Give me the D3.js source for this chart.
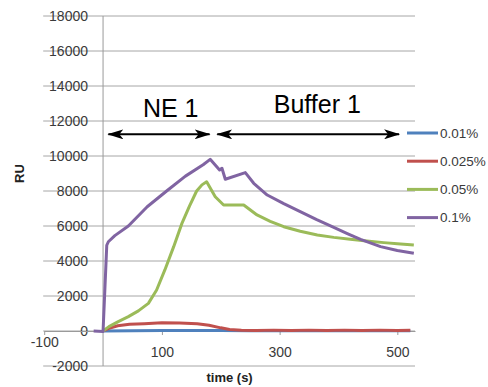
<!DOCTYPE html>
<html>
<head>
<meta charset="utf-8">
<script src="https://cdn.jsdelivr.net/npm/d3@7"></script>
<style>
  body { margin: 0; background: #fff; }
  svg { display: block; font-family: "Liberation Sans", Arial, sans-serif; }
</style>
</head>
<body>
<svg id="chart" width="488" height="387"></svg>
<script>
// series: time (s) and response (RU)
const seriesNames = ["0.01%", "0.025%", "0.05%", "0.1%"];
const seriesColors = ["#4F81BD", "#C0504D", "#9BBB59", "#8064A2"];

const t001 = [0, 50, 100, 150, 200, 250, 300, 350, 400, 450, 500, 522];
const v001 = [0, 20, 30, 30, 25, 20, 20, 20, 20, 20, 20, 20];

const t0025 = [0, 10, 25, 45, 70, 100, 130, 160, 180, 200, 215, 235, 260, 290, 320, 350, 380, 410, 440, 470, 500, 522];
const v0025 = [0, 150, 300, 380, 420, 470, 460, 420, 330, 180, 90, 40, 30, 50, 30, 50, 30, 50, 30, 50, 30, 40];

const t005 = [0, 10, 25, 43, 60, 77, 91, 105, 120, 134, 147, 159, 168, 176, 190.6, 204.8, 239, 261.6, 284, 307, 335, 364, 392, 420, 448, 477, 500, 528];
const v005 = [0, 250, 520, 820, 1150, 1580, 2340, 3490, 4820, 6150, 7150, 8000, 8350, 8530, 7670, 7200, 7200, 6630, 6270, 5960, 5700, 5490, 5350, 5240, 5140, 5050, 4980, 4910];

const t01 = [-16, 0, 6.3, 9, 20, 43, 75, 108, 140, 170, 182, 198, 202, 207.7, 241.7, 256, 279, 307, 335, 363, 392, 415, 437.5, 471.5, 500, 528];
const v01 = [0, -30, 4900, 5100, 5450, 6000, 7100, 8000, 8850, 9500, 9810, 9200, 9300, 8670, 9050, 8440, 7770, 7280, 6820, 6360, 5920, 5570, 5240, 4820, 4600, 4440];

const yTicks = [-2000, 0, 2000, 4000, 6000, 8000, 10000, 12000, 14000, 16000, 18000];
const xTicks = [-100, 100, 300, 500];

// phase annotations (time range, label)
const phaseLabels = ["NE 1", "Buffer 1"];
const phaseStart = [9, 194];
const phaseEnd = [181, 503];
const phaseTextX = [115, 364];
const phaseTextY = [12230, 12460];
const arrowLevel = 11240;

const svg = d3.select("#chart");

const x = d3.scaleLinear().domain([-100, 530]).range([44.2, 415]);
const y = d3.scaleLinear().domain([-2000, 18000]).range([366, 16]);

// horizontal gridlines
svg.append("g")
  .selectAll("line")
  .data(yTicks)
  .enter()
  .append("line")
  .attr("x1", x(-100) - 1)
  .attr("x2", x(530))
  .attr("y1", d => y(d))
  .attr("y2", d => y(d))
  .attr("stroke", "#a6a6a6")
  .attr("stroke-width", 1);

// y axis at t = 0
svg.append("line")
  .attr("x1", x(0)).attr("x2", x(0))
  .attr("y1", y(18000)).attr("y2", y(-2000))
  .attr("stroke", "#9a9a9a")
  .attr("stroke-width", 1);

// y tick labels
svg.append("g")
  .selectAll("text")
  .data(yTicks)
  .enter()
  .append("text")
  .attr("x", 88)
  .attr("y", d => y(d))
  .attr("dy", "0.36em")
  .attr("text-anchor", "end")
  .attr("font-size", 14)
  .attr("fill", "#3a3a3a")
  .text(d => d);

// x axis at RU = 0
const xAxis = svg.append("g")
  .attr("transform", "translate(0," + y(0) + ")")
  .call(d3.axisBottom(x).tickValues(xTicks).tickSize(4).tickSizeOuter(0).tickFormat(d => String(d)));
xAxis.select(".domain").attr("stroke", "#9a9a9a");
xAxis.selectAll(".tick line").attr("stroke", "#9a9a9a");
xAxis.selectAll(".tick text")
  .attr("font-size", 14)
  .attr("font-family", "Liberation Sans, Arial, sans-serif")
  .attr("fill", "#3a3a3a")
  .attr("y", d => d < 0 ? 6 : 16);

// axis titles
svg.append("text")
  .attr("x", x(215))
  .attr("y", 382)
  .attr("text-anchor", "middle")
  .attr("font-size", 13)
  .attr("font-weight", "bold")
  .attr("fill", "#222")
  .text("time (s)");

svg.append("text")
  .attr("transform", "translate(24," + y(9000) + ") rotate(-90)")
  .attr("text-anchor", "middle")
  .attr("font-size", 13)
  .attr("font-weight", "bold")
  .attr("fill", "#222")
  .text("RU");

// series lines
const line = d3.line()
  .x(d => x(d[0]))
  .y(d => y(d[1]));

const series = [
  d3.zip(t001, v001),
  d3.zip(t0025, v0025),
  d3.zip(t005, v005),
  d3.zip(t01, v01)
];

svg.append("g")
  .selectAll("path")
  .data(series)
  .enter()
  .append("path")
  .attr("d", line)
  .attr("fill", "none")
  .attr("stroke", (d, i) => seriesColors[i])
  .attr("stroke-width", 3)
  .attr("stroke-linejoin", "round");

// arrows
const defs = svg.append("defs");
defs.append("marker")
  .attr("id", "head")
  .attr("viewBox", "0 0 16 10")
  .attr("refX", 15)
  .attr("refY", 5)
  .attr("markerWidth", 16)
  .attr("markerHeight", 10)
  .attr("markerUnits", "userSpaceOnUse")
  .attr("orient", "auto-start-reverse")
  .append("path")
  .attr("d", "M0,0 L16,5 L0,10 L4,5 Z")
  .attr("fill", "#000");

svg.append("g")
  .selectAll("line")
  .data(phaseLabels)
  .enter()
  .append("line")
  .attr("x1", (d, i) => x(phaseStart[i]))
  .attr("x2", (d, i) => x(phaseEnd[i]))
  .attr("y1", y(arrowLevel))
  .attr("y2", y(arrowLevel))
  .attr("stroke", "#000")
  .attr("stroke-width", 2)
  .attr("marker-start", "url(#head)")
  .attr("marker-end", "url(#head)");

svg.append("g")
  .selectAll("text")
  .data(phaseLabels)
  .enter()
  .append("text")
  .attr("x", (d, i) => x(phaseTextX[i]))
  .attr("y", (d, i) => y(phaseTextY[i]))
  .attr("text-anchor", "middle")
  .attr("font-size", 25)
  .attr("fill", "#000")
  .text(d => d);

// legend
const legend = svg.append("g")
  .selectAll("g")
  .data(seriesNames)
  .enter()
  .append("g")
  .attr("transform", (d, i) => "translate(407," + (133 + i * 28.2) + ")");

legend.append("line")
  .attr("x1", 0).attr("x2", 31)
  .attr("stroke", (d, i) => seriesColors[i])
  .attr("stroke-width", 3);

legend.append("text")
  .attr("x", 33)
  .attr("dy", "0.36em")
  .attr("font-size", 13.5)
  .attr("fill", "#3a3a3a")
  .text(d => d);
</script>
</body>
</html>
